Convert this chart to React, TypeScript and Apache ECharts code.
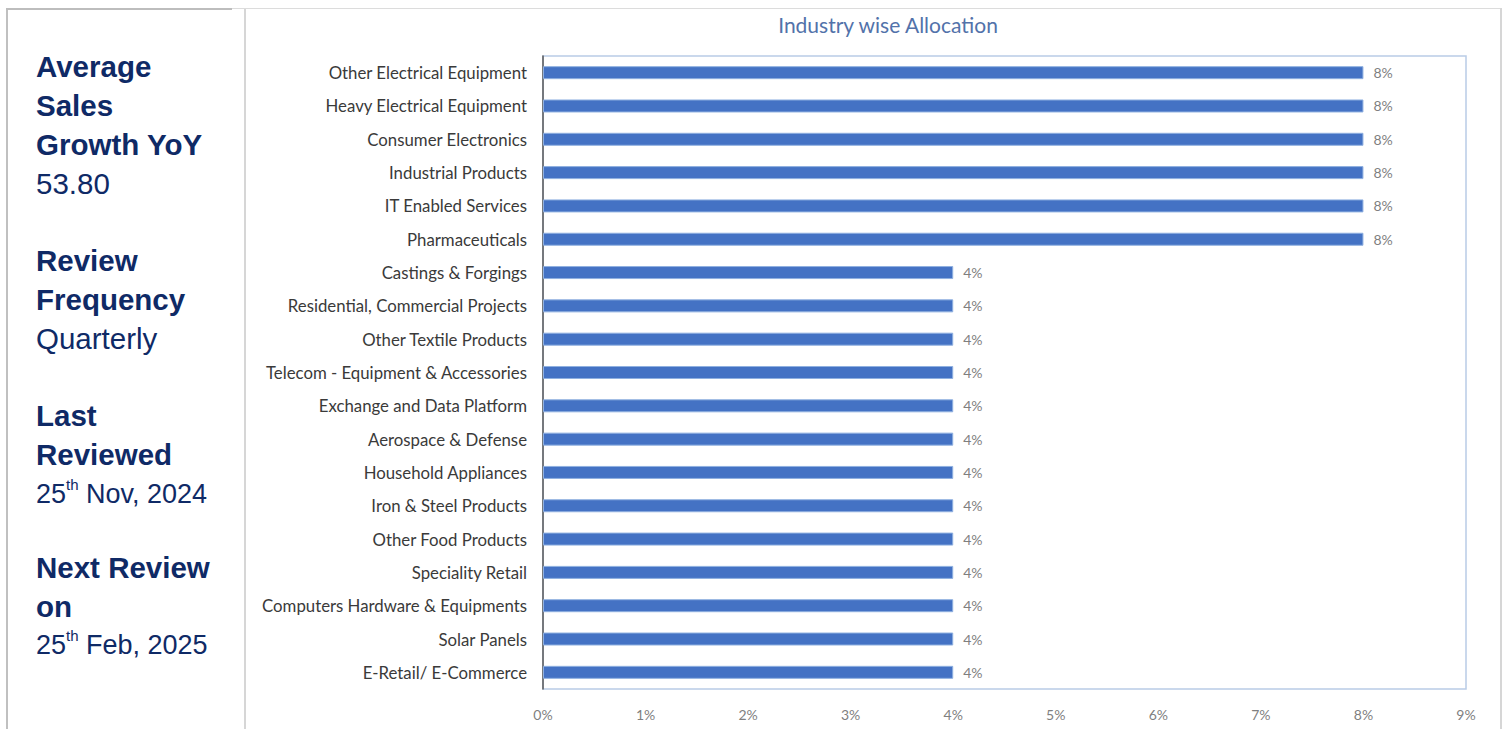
import React, { useEffect, useRef } from "react";
import * as echarts from "echarts";

const categories = [
  "Other Electrical Equipment",
  "Heavy Electrical Equipment",
  "Consumer Electronics",
  "Industrial Products",
  "IT Enabled Services",
  "Pharmaceuticals",
  "Castings & Forgings",
  "Residential, Commercial Projects",
  "Other Textile Products",
  "Telecom - Equipment & Accessories",
  "Exchange and Data Platform",
  "Aerospace & Defense",
  "Household Appliances",
  "Iron & Steel Products",
  "Other Food Products",
  "Speciality Retail",
  "Computers Hardware & Equipments",
  "Solar Panels",
  "E-Retail/ E-Commerce",
];

const allocation = [8, 8, 8, 8, 8, 8, 4, 4, 4, 4, 4, 4, 4, 4, 4, 4, 4, 4, 4];

const xTicks = [0, 1, 2, 3, 4, 5, 6, 7, 8, 9];

const chartTitle = "Industry wise Allocation";

type PanelLine = { text: string; kind: "head" | "value" | "date"; y: number; day?: string; sup?: string; rest?: string };

const panelLines: PanelLine[] = [
  { text: "Average", kind: "head", y: 66 },
  { text: "Sales", kind: "head", y: 105 },
  { text: "Growth YoY", kind: "head", y: 144 },
  { text: "53.80", kind: "value", y: 183 },
  { text: "Review", kind: "head", y: 260 },
  { text: "Frequency", kind: "head", y: 299 },
  { text: "Quarterly", kind: "value", y: 338 },
  { text: "Last", kind: "head", y: 415 },
  { text: "Reviewed", kind: "head", y: 454 },
  { text: "", kind: "date", y: 492, day: "25", sup: "th", rest: " Nov, 2024" },
  { text: "Next Review", kind: "head", y: 567 },
  { text: "on", kind: "head", y: 606 },
  { text: "", kind: "date", y: 643, day: "25", sup: "th", rest: " Feb, 2025" },
];

const NAVY = "#0f2a66";

export default function App() {
  const ref = useRef<HTMLDivElement>(null);

  useEffect(() => {
    document.body.style.margin = "0";
    if (!ref.current) return;
    const chart = echarts.init(ref.current, undefined, { renderer: "svg" });

    const panelGraphics: any[] = panelLines.map((l) => {
      if (l.kind === "date") {
        return {
          type: "text",
          x: 36,
          y: l.y,
          style: {
            text: `{n|${l.day}}{s|${l.sup}}{n|${l.rest}}`,
            verticalAlign: "middle",
            align: "left",
            rich: {
              n: { fontSize: 27, fontFamily: "Liberation Sans, Arial", fill: NAVY, lineHeight: 30, verticalAlign: "bottom" },
              s: { fontSize: 15, fontFamily: "Liberation Sans, Arial", fill: NAVY, lineHeight: 15, verticalAlign: "top" },
            },
          },
        };
      }
      return {
        type: "text",
        x: 36,
        y: l.y,
        style: {
          text: l.text,
          fill: NAVY,
          fontSize: 29.5,
          fontWeight: l.kind === "head" ? "bold" : "normal",
          fontFamily: "Liberation Sans, Arial",
          verticalAlign: "middle",
          align: "left",
        },
      };
    });

    const option: any = {
      animation: false,
      backgroundColor: "#ffffff",
      grid: {
        left: 543,
        right: 37,
        top: 56,
        bottom: 40,
        show: true,
        borderColor: "#b9cce6",
        borderWidth: 1.5,
        backgroundColor: "transparent",
      },
      xAxis: {
        type: "value",
        min: xTicks[0],
        max: xTicks[xTicks.length - 1],
        interval: 1,
        axisLine: { show: false },
        axisTick: { show: false },
        splitLine: { show: false },
        axisLabel: {
          formatter: "{value}%",
          color: "#7f7f7f",
          fontSize: 14,
          fontFamily: "Lato",
          margin: 18,
        },
      },
      yAxis: {
        type: "category",
        inverse: true,
        data: categories,
        axisLine: { show: true, lineStyle: { color: "#595959", width: 1.5 } },
        axisTick: { show: false },
        axisLabel: {
          color: "#3a3a3a",
          fontSize: 16.8,
          fontFamily: "Lato",
          margin: 16,
        },
      },
      series: [
        {
          type: "bar",
          data: allocation,
          barWidth: 13,
          itemStyle: { color: "#4472c4", borderColor: "#8fb0e0", borderWidth: 1 },
          label: {
            show: true,
            position: "right",
            distance: 10,
            formatter: (p: any) => `${p.value}%`,
            color: "#7f7f7f",
            fontSize: 14,
            fontFamily: "Lato",
          },
        },
      ],
      graphic: [
        { type: "rect", shape: { x: 6, y: 9, width: 2, height: 720 }, style: { fill: "#c0c0c0" } },
        { type: "rect", shape: { x: 6, y: 8, width: 226, height: 2 }, style: { fill: "#bdbdbd" } },
        { type: "rect", shape: { x: 232, y: 8, width: 1268, height: 1 }, style: { fill: "#dcdcdc" } },
        { type: "rect", shape: { x: 244, y: 9, width: 2, height: 720 }, style: { fill: "#d6d6d6" } },
        { type: "rect", shape: { x: 1500, y: 8, width: 2, height: 721 }, style: { fill: "#d6d6d6" } },
        {
          type: "text",
          x: 888,
          y: 24,
          style: {
            text: chartTitle,
            fill: "#5272aa",
            fontSize: 21,
            fontFamily: "Lato",
            align: "center",
            verticalAlign: "middle",
          },
        },
        ...panelGraphics,
      ],
    };

    chart.setOption(option);
    return () => chart.dispose();
  }, []);

  return <div ref={ref} style={{ width: 1503, height: 729 }} />;
}
